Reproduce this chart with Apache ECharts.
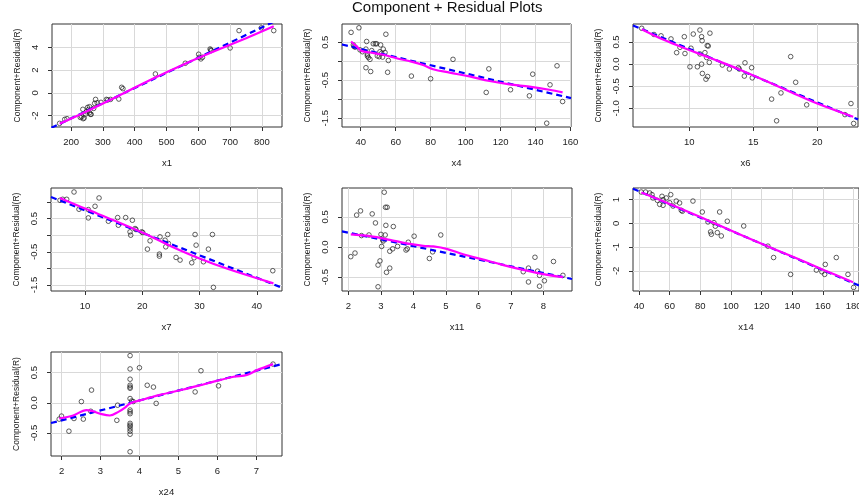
<!DOCTYPE html>
<html><head><meta charset="utf-8">
<script src="https://cdn.jsdelivr.net/npm/echarts@6/dist/echarts.min.js"></script>
<style>html,body{margin:0;padding:0;background:#fff}#c{width:859px;height:498px}</style>
</head><body><div id="c"></div>
<script>
// ---------------- data ----------------
const chartTitle = 'Component + Residual Plots';
const yTitle = 'Component+Residual(R)';
const varNames = ['x1', 'x4', 'x6', 'x7', 'x11', 'x14', 'x24'];

// panel x1
const x1Vals = [164,180,187,229,233,237,238,241,246,248,252,255,258,261,263,258,271,274,277,282,294,311,315,324,350,359,363,465,559,601,603,608,613,637,639,641,700,728,798,837];
const x1Res  = [-2.67,-2.32,-2.26,-2.15,-2.09,-1.44,-2.26,-2.2,-1.85,-1.65,-1.27,-1.45,-1.74,-1.88,-1.88,-1.21,-1.36,-0.92,-0.57,-0.86,-0.83,-0.57,-0.62,-0.57,-0.54,0.49,0.37,1.66,2.6,3.39,3.12,2.98,3.12,3.85,3.77,3.71,3.94,5.46,5.7,5.46];
const x1FitX = [138, 865];
const x1FitY = [-3.06, 6.61];
const x1SmX = [164,250,350,450,550,650,750,837];
const x1SmY = [-2.7,-1.6,-0.25,1.15,2.45,3.65,4.8,5.85];
const x1Ticks = [200,300,400,500,600,700,800];
const x1YTicks = [-2,0,2,4];
const x1YLabels = [-2,0,2,4];

// panel x4
const x4Vals = [34.5,39,35.8,36.2,36.8,39.6,41,43,43.4,43.8,43.8,44.4,43,45.3,45.7,46.3,47.2,48.4,49.1,49.5,50.6,51,51.4,52,52.5,52.9,53.9,54.4,55.4,55.8,69,80,92.8,111.8,113.3,125.7,136.5,138.4,146.4,148.3,152.3,155.5];
const x4Res  = [0.76,0.88,0.43,0.39,0.37,0.3,0.25,0.32,0.52,0.18,0.14,0.1,-0.17,0.05,-0.27,0.28,0.46,0.46,0.46,0.14,0.12,0.25,0.43,0.21,0.11,0.32,0.23,0.71,-0.29,0.02,-0.39,-0.46,0.05,-0.82,-0.2,-0.75,-0.91,-0.34,-1.63,-0.62,-0.12,-1.06];
const x4FitX = [29.3, 160.3];
const x4FitY = [0.44, -0.97];
const x4SmX = [34.5,37.7,40.6,45.3,52.9,60.5,69,75.7,81.4,90.9,102.3,113.7,125.1,136.5,147.9,155.5];
const x4SmY = [0.52,0.39,0.27,0.23,0.17,0.08,-0.01,-0.1,-0.21,-0.3,-0.4,-0.52,-0.61,-0.67,-0.75,-0.82];
const x4Ticks = [40,60,80,100,120,140,160];
const x4YTicks = [-1.5,-1,-0.5,0,0.5];
const x4YLabels = [-1.5,-0.5,0.5];

// panel x6
const x6Vals = [6.28,7.24,7.79,8.57,9.01,9.27,9.61,9.66,10.05,10.13,10.31,10.63,10.83,10.83,10.96,10.96,11.0,11.02,11.22,11.3,11.35,11.4,11.48,11.43,11.56,11.61,12.58,13.13,13.83,13.9,14.3,14.35,14.87,14.92,16.43,16.82,17.16,17.92,18.31,19.17,22.16,22.63,22.84];
const x6Res  = [0.81,0.67,0.64,0.57,0.26,0.38,0.62,0.24,-0.06,0.36,0.68,-0.06,0.77,0.23,0,0.62,0.53,-0.21,0.26,-0.34,0.15,0.42,0.41,-0.28,0.04,0.7,-0.02,-0.11,-0.08,-0.11,-0.27,0.03,-0.08,-0.31,-0.79,-1.28,-0.65,0.17,-0.41,-0.92,-1.14,-0.89,-1.34];
const x6FitX = [5.6, 23.18];
const x6FitY = [0.874, -1.248];
const x6SmX = [6.28,8,10,12,14,16,18,20,22.8];
const x6SmY = [0.79,0.55,0.32,0.1,-0.13,-0.38,-0.64,-0.89,-1.19];
const x6Ticks = [10,15,20];
const x6YTicks = [-1,-0.5,0,0.5];
const x6YLabels = [-1,-0.5,0,0.5];

// panel x7
const x7Vals = [5.63,6.1,6.8,8.08,8.95,10.58,10.58,11.75,12.45,14.08,15.7,15.82,17.1,17.86,17.98,18.27,18.74,18.9,19.9,20.08,20.9,21.36,22.99,22.99,23.1,23.98,24.1,24.44,24.56,25.9,26.6,28.64,29.05,29.22,29.4,30.68,31.55,32.25,32.42,42.79];
const x7Res  = [1.05,1.08,1.08,1.3,0.78,0.77,0.52,0.87,1.12,0.42,0.53,0.3,0.53,0.1,0,0.45,0.2,0.17,0.1,0.08,-0.42,-0.17,-0.57,-0.63,-0.05,-0.15,-0.35,0.02,-0.25,-0.67,-0.75,-0.83,-0.68,0.02,-0.3,-0.8,-0.42,0.02,-1.57,-1.07];
const x7FitX = [4.06, 44.4];
const x7FitY = [1.15, -1.58];
const x7SmX = [5.63,10,15,20,25,30,35,42.9];
const x7SmY = [1.12,0.8,0.45,0.08,-0.33,-0.7,-1.02,-1.45];
const x7Ticks = [10,20,30,40];
const x7YTicks = [-1.5,-1,-0.5,0,0.5,1];
const x7YLabels = [-1.5,-0.5,0.5];

// panel x11
const x11Vals = [2.07,2.2,2.25,2.37,2.4,2.63,2.73,2.83,2.91,2.91,2.97,3.0,3.02,3.05,3.07,3.1,3.13,3.14,3.15,3.19,3.17,3.27,3.27,3.36,3.38,3.51,3.77,3.81,3.84,4.02,4.49,4.59,4.84,7.38,7.54,7.54,7.74,7.82,7.88,7.88,8.03,8.31,8.6];
const x11Res  = [-0.16,-0.1,0.53,0.6,0.19,0.2,0.55,0.4,-0.3,-0.66,-0.23,0.21,0.01,0.12,0.1,0.91,0.2,0.66,0.36,0.66,-0.42,-0.07,-0.35,-0.03,0.34,0.01,-0.05,-0.03,0.08,0.18,-0.19,-0.08,0.2,-0.41,-0.35,-0.58,-0.17,-0.4,-0.47,-0.65,-0.56,-0.24,-0.47];
const x11FitX = [1.8, 8.88];
const x11FitY = [0.26, -0.53];
const x11SmX = [2.07,2.66,3.27,3.79,4.3,4.61,5.02,5.53,6.15,6.77,7.38,8.0,8.6];
const x11SmY = [0.21,0.18,0.12,0.06,0.02,0.01,-0.03,-0.12,-0.21,-0.3,-0.38,-0.45,-0.5];
const x11Ticks = [2,3,4,5,6,7,8];
const x11YTicks = [-0.5,0,0.5];
const x11YLabels = [-0.5,0,0.5];

// panel x14
const x14Vals = [41.5,44.3,47,48.5,49.1,52,53.5,55,55.7,55.7,57.8,60,60.7,62.2,64.3,66.5,67.6,68.3,75.2,81.3,85,86.7,87.2,88.9,89.8,91.1,92.6,93.7,97.6,108.3,124.1,127.8,138.9,155.7,159.3,161.1,161.5,168.7,176.3,180];
const x14Res  = [1.32,1.32,1.28,1.21,1.07,0.97,0.8,1.14,1.0,0.76,1.07,0.87,1.21,0.73,0.94,0.86,0.55,0.51,0.94,0.48,0.06,-0.36,-0.46,0.03,-0.12,-0.39,0.48,-0.53,0.09,-0.11,-0.96,-1.44,-2.15,-1.97,-2.04,-2.15,-1.73,-1.44,-2.15,-2.7];
const x14FitX = [36.1, 183.5];
const x14FitY = [1.46, -2.62];
const x14SmX = [41.5,60,80,100,120,140,160,179.6];
const x14SmY = [1.3,0.82,0.27,-0.3,-0.86,-1.4,-1.95,-2.48];
const x14Ticks = [40,60,80,100,120,140,160,180];
const x14YTicks = [-2,-1,0,1];
const x14YLabels = [-2,-1,0,1];

// panel x24
const x24Vals = [1.94,2.0,2.19,2.32,2.51,2.56,2.75,2.77,3.42,3.44,3.76,3.76,3.76,3.76,3.76,3.76,3.76,3.76,3.76,3.76,3.76,3.76,3.76,3.76,3.76,3.76,3.76,3.8,3.84,4.0,4.2,4.36,4.43,5.43,5.58,6.03,7.43];
const x24Res  = [-0.27,-0.22,-0.47,-0.26,0.02,-0.27,-0.14,0.21,-0.29,-0.04,0.78,0.56,0.39,0.29,0.26,0.24,0.07,-0.12,-0.15,-0.18,-0.34,-0.37,-0.39,-0.43,-0.47,-0.52,-0.81,0.03,0.02,0.58,0.29,0.26,-0.01,0.18,0.53,0.28,0.64];
const x24FitX = [1.73, 7.66];
const x24FitY = [-0.335, 0.64];
const x24SmX = [1.94,2.3,2.64,2.81,2.99,3.24,3.46,3.63,3.76,4.02,4.53,5.13,5.73,6.42,6.76,7.02,7.43];
const x24SmY = [-0.26,-0.21,-0.12,-0.14,-0.18,-0.21,-0.15,-0.08,-0.01,0.04,0.13,0.22,0.32,0.43,0.46,0.54,0.64];
const x24Ticks = [2,3,4,5,6,7];
const x24YTicks = [-0.5,0,0.5];
const x24YLabels = [-0.5,0,0.5];

// ---------------- layout ----------------
const panels = [
  {name: varNames[0], xs: x1Vals, ys: x1Res, fx: x1FitX, fy: x1FitY, sx: x1SmX, sy: x1SmY, xt: x1Ticks, yt: x1YTicks, yl: x1YLabels, dec: 0,
   box: {left: 52, top: 24, width: 230, height: 103}, xr: [140, 863], yr: [-2.99, 6.04]},
  {name: varNames[1], xs: x4Vals, ys: x4Res, fx: x4FitX, fy: x4FitY, sx: x4SmX, sy: x4SmY, xt: x4Ticks, yt: x4YTicks, yl: x4YLabels, dec: 1,
   box: {left: 342, top: 24, width: 229, height: 103}, xr: [29.3, 160.3], yr: [-1.73, 0.98]},
  {name: varNames[2], xs: x6Vals, ys: x6Res, fx: x6FitX, fy: x6FitY, sx: x6SmX, sy: x6SmY, xt: x6Ticks, yt: x6YTicks, yl: x6YLabels, dec: 1,
   box: {left: 633, top: 24, width: 225, height: 103}, xr: [5.6, 23.18], yr: [-1.42, 0.907]},
  {name: varNames[3], xs: x7Vals, ys: x7Res, fx: x7FitX, fy: x7FitY, sx: x7SmX, sy: x7SmY, xt: x7Ticks, yt: x7YTicks, yl: x7YLabels, dec: 1,
   box: {left: 51, top: 188, width: 231, height: 103}, xr: [4.06, 44.4], yr: [-1.68, 1.42]},
  {name: varNames[4], xs: x11Vals, ys: x11Res, fx: x11FitX, fy: x11FitY, sx: x11SmX, sy: x11SmY, xt: x11Ticks, yt: x11YTicks, yl: x11YLabels, dec: 1,
   box: {left: 342, top: 188, width: 230, height: 103}, xr: [1.8, 8.88], yr: [-0.73, 0.98]},
  {name: varNames[5], xs: x14Vals, ys: x14Res, fx: x14FitX, fy: x14FitY, sx: x14SmX, sy: x14SmY, xt: x14Ticks, yt: x14YTicks, yl: x14YLabels, dec: 0,
   box: {left: 633, top: 188, width: 226, height: 103}, xr: [36.1, 183.5], yr: [-2.85, 1.49]},
  {name: varNames[6], xs: x24Vals, ys: x24Res, fx: x24FitX, fy: x24FitY, sx: x24SmX, sy: x24SmY, xt: x24Ticks, yt: x24YTicks, yl: x24YLabels, dec: 1,
   box: {left: 51, top: 352, width: 231, height: 104}, xr: [1.73, 7.66], yr: [-0.88, 0.84]}
];

const FONT = 'Liberation Sans, Arial, sans-serif';
const TXT = '#222';
const grids = [], xAxes = [], yAxes = [], series = [];
const zip = (a, b) => a.map((v, k) => [v, b[k]]);

panels.forEach((p, i) => {
  grids.push(Object.assign({show: true, borderColor: '#333', borderWidth: 1, backgroundColor: 'transparent',
    containLabel: false, outerBoundsMode: 'none'}, p.box));
  xAxes.push({
    type: 'value', gridIndex: i, min: p.xr[0], max: p.xr[1],
    axisLine: {show: false, onZero: false},
    axisTick: {show: true, length: 4, customValues: p.xt, lineStyle: {color: '#333', width: 1}},
    axisLabel: {customValues: p.xt, margin: 10, fontSize: 9.5, color: TXT, fontFamily: FONT, hideOverlap: false},
    splitLine: {show: true, lineStyle: {color: '#d9d9d9', width: 1}},
    name: p.name, nameLocation: 'middle', nameGap: 31, nameMoveOverlap: false,
    nameTextStyle: {fontSize: 9.5, color: TXT, fontFamily: FONT}
  });
  yAxes.push({
    type: 'value', gridIndex: i, min: p.yr[0], max: p.yr[1],
    axisLine: {show: false, onZero: false},
    axisTick: {show: true, length: 4, customValues: p.yt, lineStyle: {color: '#333', width: 1}},
    axisLabel: {customValues: p.yl, margin: 12, rotate: 90, fontSize: 9.5, color: TXT, fontFamily: FONT, hideOverlap: false,
      formatter: v => Number(v).toFixed(p.dec)},
    splitLine: {show: true, lineStyle: {color: '#d9d9d9', width: 1}},
    name: yTitle, nameLocation: 'middle', nameGap: 30, nameMoveOverlap: false,
    nameTextStyle: {fontSize: 8.5, color: TXT, fontFamily: FONT}
  });
  series.push({
    type: 'scatter', xAxisIndex: i, yAxisIndex: i, data: zip(p.xs, p.ys),
    symbol: 'circle', symbolSize: 4.6,
    itemStyle: {color: 'rgba(0,0,0,0)', borderColor: '#222', borderWidth: 0.9},
    z: 2, silent: true
  });
  series.push({
    type: 'line', xAxisIndex: i, yAxisIndex: i, data: zip(p.fx, p.fy),
    symbol: 'none', clip: true,
    lineStyle: {color: '#0000ff', width: 2.2, type: [6, 4]},
    z: 3, silent: true
  });
  series.push({
    type: 'line', xAxisIndex: i, yAxisIndex: i, data: zip(p.sx, p.sy),
    symbol: 'none', smooth: 0.35, clip: true,
    lineStyle: {color: '#ff00ff', width: 2.2},
    z: 4, silent: true
  });
});

const chart = echarts.init(document.getElementById('c'), null, {renderer: 'canvas'});
chart.setOption({
  animation: false,
  backgroundColor: '#ffffff',
  title: {text: chartTitle, left: 352, top: 0, padding: 0,
    textStyle: {fontSize: 15, fontWeight: 'normal', color: '#111', fontFamily: FONT}},
  grid: grids, xAxis: xAxes, yAxis: yAxes, series: series
});
</script>
</body></html>
